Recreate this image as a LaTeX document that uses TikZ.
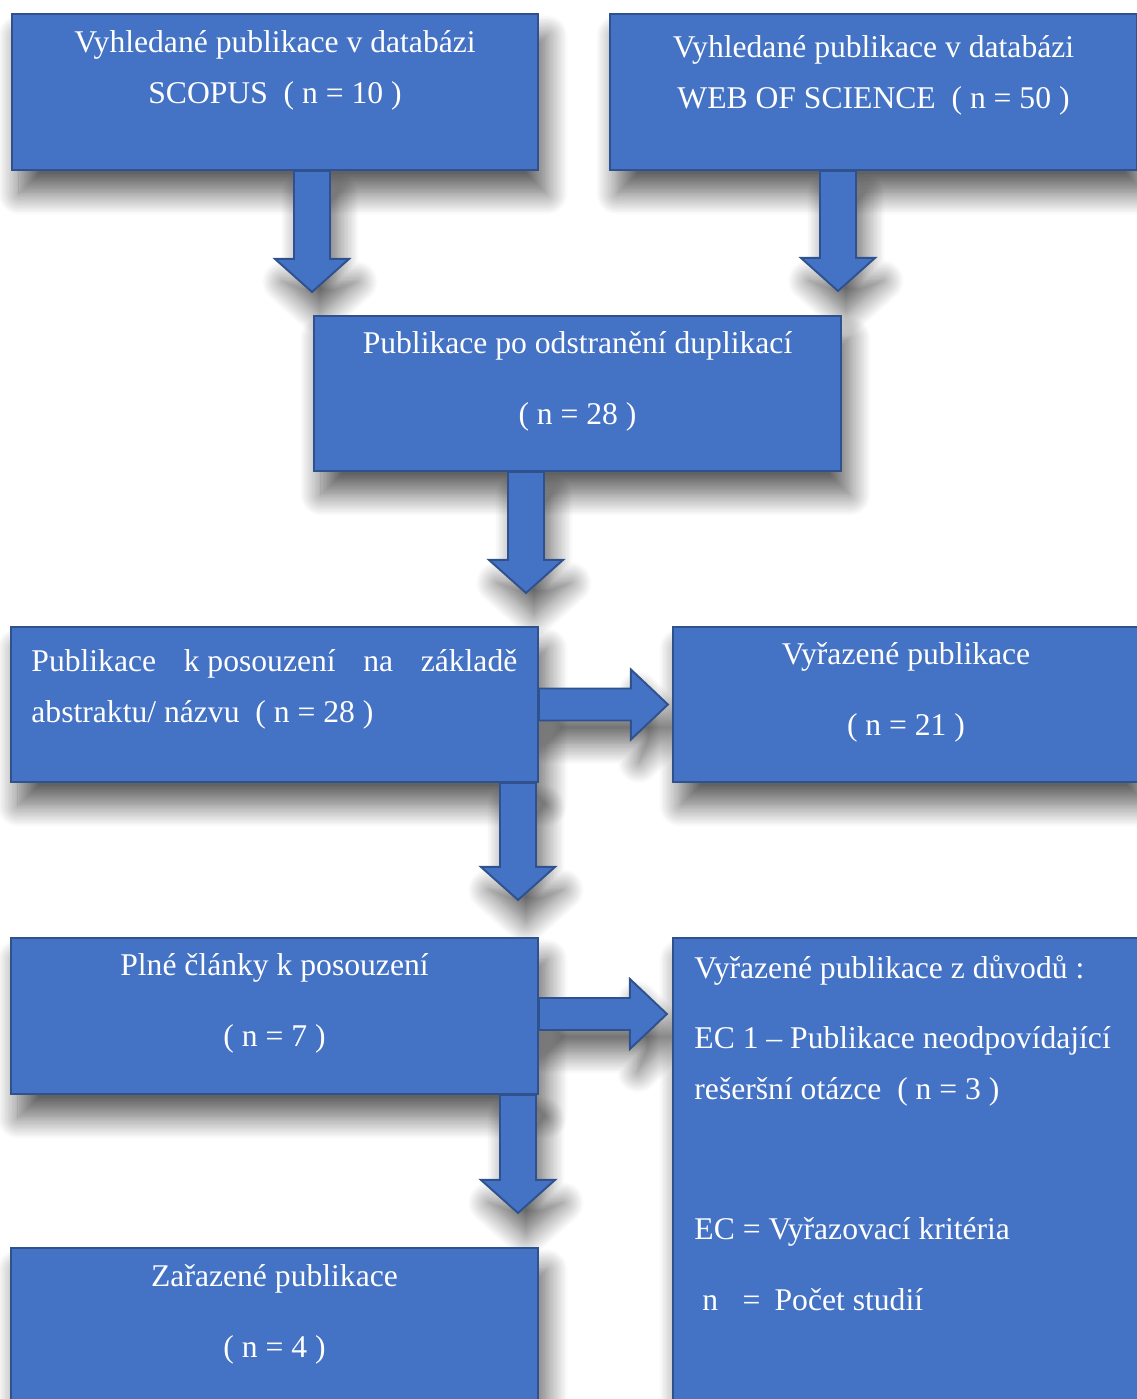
\documentclass[tikz,border=0pt]{standalone}
\usepackage{fontspec}
\setmainfont{Liberation Serif}
\usetikzlibrary{positioning,calc,shadows.blur}

\definecolor{boxblue}{HTML}{4472C4}
\definecolor{boxedge}{HTML}{2F528F}

\pgfdeclarelayer{back}
\pgfsetlayers{back,main}

\tikzset{
  box/.style={draw=boxedge, fill=boxblue, line width=1.1pt, inner sep=0pt,
    minimum width=10.54cm, minimum height=3.1cm},
  boxtext/.style={text=white, inner sep=0pt, anchor=base, align=center,
    font=\fontsize{18}{29}\selectfont},
  softshadow/.style={blur shadow={shadow xshift=4.5pt, shadow yshift=-13pt,
    shadow blur radius=12pt, shadow blur steps=16, shadow opacity=62}},
  blockarrow/.style={draw=boxedge, fill=boxblue, line width=1.1pt, line join=miter},
  arrowshade/.style={fill=white, draw=none, softshadow}
}

% block arrow pointing down: #2 start on the box edge, #3 tip
\newcommand{\blockdown}[3][blockarrow]{%
  \path[#1] ($(#2)+(-18,0)$) -- ($(#3)+(-18,-33)$) -- ($(#3)+(-37,-33)$) -- (#3)
    -- ($(#3)+(37,-33)$) -- ($(#3)+(18,-33)$) -- ($(#2)+(18,0)$) -- cycle;}
% block arrow pointing right
\newcommand{\blockright}[3][blockarrow]{%
  \path[#1] ($(#2)+(0,-16)$) -- ($(#3)+(-37,-16)$) -- ($(#3)+(-37,-35)$) -- (#3)
    -- ($(#3)+(-37,35)$) -- ($(#3)+(-37,16)$) -- ($(#2)+(0,16)$) -- cycle;}

\begin{document}
\begin{tikzpicture}[x=0.02cm,y=-0.02cm]
  \useasboundingbox (0,0) rectangle (1136,1399);

  % boxes
  \node[box, minimum width=10.52cm, minimum height=3.12cm] (sc) at (275,92) {};
  \node[box, minimum height=3.12cm] (wos) at (873.5,92) {};
  \node[box] (dup) at (577.5,393.5) {};
  \node[box] (abs) at (274.5,704.5) {};
  \node[box, minimum width=9.32cm] (exc1) at (906,704.5) {};
  \node[box, minimum height=3.12cm] (full) at (274.5,1016) {};
  \node[box, minimum width=9.32cm, minimum height=9.64cm] (exc2) at (906,1179) {};
  \node[box] (inc) at (274.5,1325.5) {};

  % texts (base = last line)
  \node[boxtext] at ($(sc.north)+(0,90)$) {Vyhledané publikace v databázi\\SCOPUS\ \ ( n = 10 )};
  \node[boxtext] at ($(wos.north)+(0,95)$) {Vyhledané publikace v databázi\\WEB OF SCIENCE\ \ ( n = 50 )};
  \node[boxtext] at ($(dup.north)+(0,109)$) {Publikace po odstranění duplikací\\[11pt]( n = 28 )};
  \node[boxtext, anchor=base west, align=justify, text width=9.72cm] at ($(abs.north west)+(21,45)$)
    {Publikace k\nobreak\hspace{0.25em}posouzení na základě\linebreak abstraktu/ názvu\ \ ( n = 28 )};
  \node[boxtext] at ($(exc1.north)+(0,109)$) {Vyřazené publikace\\[11pt]( n = 21 )};
  \node[boxtext] at ($(full.north)+(0,109)$) {Plné články k posouzení\\[11pt]( n = 7 )};
  \node[boxtext, anchor=base west, align=left] at ($(exc2.north west)+(22,373)$)
    {Vyřazené publikace z důvodů :\\[11pt]EC 1 – Publikace neodpovídající\\rešeršní otázce\ \ ( n = 3 )\\[51pt]%
     EC = Vyřazovací kritéria\\[11pt]\hspace*{4.5pt}n\hspace{14pt}=\hspace{8pt}Počet studií};
  \node[boxtext] at ($(inc.north)+(0,110)$) {Zařazené publikace\\[11pt]( n = 4 )};

  % arrows
  \coordinate (s1) at ($(sc.south)+(37,0)$);
  \coordinate (t1) at ($(s1)+(0,121)$);
  \coordinate (s2) at ($(wos.south)+(-35.5,0)$);
  \coordinate (t2) at ($(s2)+(0,120)$);
  \coordinate (s3) at ($(dup.south)+(-51.5,0)$);
  \coordinate (t3) at ($(s3)+(0,121)$);
  \coordinate (s4) at ($(abs.south)+(243.5,0)$);
  \coordinate (t4) at ($(s4)+(0,117)$);
  \coordinate (s5) at ($(full.south)+(243.5,0)$);
  \coordinate (t5) at ($(s5)+(0,118)$);
  \coordinate (s6) at (abs.east);
  \coordinate (t6) at ($(s6)+(129,0)$);
  \coordinate (s7) at ($(full.east)+(0,-2)$);
  \coordinate (t7) at ($(s7)+(128,0)$);
  \foreach \s/\t in {s1/t1,s2/t2,s3/t3,s4/t4,s5/t5}
    \blockdown{\s}{\t};
  \foreach \s/\t in {s6/t6,s7/t7}
    \blockright{\s}{\t};

  % shadows
  \begin{pgfonlayer}{back}
    \foreach \b in {sc,wos,dup,abs,exc1,full,exc2,inc}
      \fill[white, softshadow] (\b.south west) rectangle (\b.north east);
    \foreach \s/\t in {s1/t1,s2/t2,s3/t3,s4/t4,s5/t5}
      \blockdown[arrowshade]{\s}{\t};
    \foreach \s/\t in {s6/t6,s7/t7}
      \blockright[arrowshade]{\s}{\t};
  \end{pgfonlayer}
\end{tikzpicture}
\end{document}
